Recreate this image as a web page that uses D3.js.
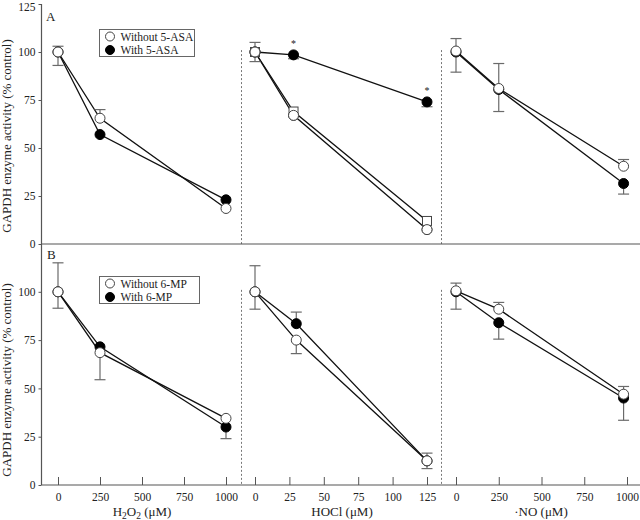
<!DOCTYPE html>
<html><head><meta charset="utf-8">
<script src="https://cdnjs.cloudflare.com/ajax/libs/d3/7.8.5/d3.min.js"></script>
<style>body{margin:0;background:#fff}svg{display:block}text{font-family:"Liberation Serif","Times New Roman",serif;fill:#222}</style>
</head><body><svg id="c" width="640" height="520"></svg>
<script>
// ---------- data ----------
const yTicks = [0, 25, 50, 75, 100, 125];
const yTicksB = [0, 25, 50, 75, 100];
const h2o2Ticks = [0, 250, 500, 750, 1000];
const hoclTicks = [0, 25, 50, 75, 100, 125];
const noTicks = [0, 250, 500, 750, 1000];

const h2o2X = [0, 250, 1000];
const hoclXA = [0, 28, 125];
const hoclXB = [0, 30, 125];
const noX = [0, 250, 980];

// Panel A (5-ASA)
const aH2O2Without = [100, 65.5, 18.5];
const aH2O2With = [100, 57, 23];
const aH2O2WithoutHi = [103, 70, null];
const aH2O2WithoutLo = [93, null, null];
const aH2O2WithHi = [null, null, null];
const aH2O2WithLo = [null, null, null];

const aHOClWithout = [100, 67, 7.5];
const aHOClSquare = [100, 69, 12];
const aHOClWith = [100, 98.5, 74];
const aHOClWithoutHi = [105, null, null];
const aHOClWithoutLo = [95, null, null];
const aHOClWithHi = [null, null, null];
const aHOClWithLo = [null, 96.5, 71.5];
const aHOClStar = [false, true, true];

const aNOWithout = [100.5, 81, 40.5];
const aNOWith = [100, 80.5, 31.5];
const aNOWithoutHi = [107, 94, 44];
const aNOWithoutLo = [89.5, 69, null];
const aNOWithHi = [null, null, null];
const aNOWithLo = [null, null, 26];

// Panel B (6-MP)
const bH2O2Without = [100, 68.5, 34.5];
const bH2O2With = [100, 71.5, 30];
const bH2O2WithoutHi = [115, null, null];
const bH2O2WithoutLo = [91.5, 54.5, null];
const bH2O2WithHi = [null, null, null];
const bH2O2WithLo = [null, null, 24];

const bHOClWithout = [100, 75, 12.5];
const bHOClWith = [100, 83.5, 12.5];
const bHOClWithoutHi = [113.5, null, 16.5];
const bHOClWithoutLo = [91, 68, 8.5];
const bHOClWithHi = [null, 89.5, null];
const bHOClWithLo = [null, null, null];

const bNOWithout = [100.5, 91, 47];
const bNOWith = [100, 84, 45];
const bNOWithoutHi = [104.5, 94.5, 51];
const bNOWithoutLo = [91, null, null];
const bNOWithHi = [null, null, null];
const bNOWithLo = [null, 75.5, 33.5];

const legendA = ["Without 5-ASA", "With 5-ASA"];
const legendB = ["Without 6-MP", "With 6-MP"];

// ---------- layout ----------
const svg = d3.select("#c");
const axisCol = "#555", errCol = "#6a6a6a";
const yA = d3.scaleLinear().domain([0, 125]).range([244, 4]);
const yB = d3.scaleLinear().domain([0, 125]).range([485, 243.5]);
const x1 = d3.scaleLinear().domain([0, 1000]).range([58, 226]);
const x2 = d3.scaleLinear().domain([0, 125]).range([255, 427]);
const x3 = d3.scaleLinear().domain([0, 1000]).range([456, 627]);
const axisX = 41.5;

function styleAxis(g) {
  g.select(".domain").remove();
  g.selectAll("line").attr("stroke", axisCol);
  g.selectAll("text").attr("font-family", "Liberation Serif").attr("font-size", 11.5).attr("fill", "#222");
}

// y axes
[[yA, yTicks], [yB, yTicksB]].forEach(([ys, t]) => {
  const g = svg.append("g").attr("transform", `translate(${axisX},0)`)
    .call(d3.axisLeft(ys).tickValues(t).tickSize(3).tickPadding(3).tickFormat(d3.format("d")));
  styleAxis(g);
  g.selectAll("text").filter(d => d === 125).attr("dy", "0.55em");
});
svg.append("line").attr("x1", axisX).attr("x2", axisX).attr("y1", yA(125)).attr("y2", yB(0)).attr("stroke", axisCol).attr("stroke-width", 1.2);
// horizontal lines
svg.append("line").attr("x1", axisX).attr("x2", 640).attr("y1", yA(0)).attr("y2", yA(0)).attr("stroke", axisCol).attr("stroke-width", 1.2);
svg.append("line").attr("x1", axisX).attr("x2", 640).attr("y1", yB(0)).attr("y2", yB(0)).attr("stroke", axisCol).attr("stroke-width", 1.2);

// x axes (panel B only)
[[x1, h2o2Ticks], [x2, hoclTicks], [x3, noTicks]].forEach(([xs, t]) => {
  const g = svg.append("g").attr("transform", `translate(0,${yB(0)})`)
    .call(d3.axisBottom(xs).tickValues(t).tickSize(-8).tickPadding(6).tickFormat(d3.format("d")));
  styleAxis(g);
  g.selectAll("text").attr("y", 8);
});

// dotted separators
[241.5, 441.5].forEach(x => {
  [[yA, 101], [yB, 101]].forEach(([ys, top]) => {
    svg.append("line").attr("x1", x).attr("x2", x).attr("y1", ys(top)).attr("y2", ys(0))
      .attr("stroke", "#555").attr("stroke-width", 0.8).attr("stroke-dasharray", "2,2");
  });
});

// axis titles
[[yA, 136], [yB, 380]].forEach(([ys, cy]) => {
  svg.append("text").attr("transform", `translate(11,${cy}) rotate(-90)`).attr("text-anchor", "middle")
    .attr("font-size", 13).text("GAPDH enzyme activity (% control)");
});
const t1 = svg.append("text").attr("x", 142).attr("y", 516).attr("text-anchor", "middle").attr("font-size", 13);
t1.append("tspan").text("H");
t1.append("tspan").attr("font-size", 9.5).attr("dy", 3).text("2");
t1.append("tspan").attr("dy", -3).text("O");
t1.append("tspan").attr("font-size", 9.5).attr("dy", 3).text("2");
t1.append("tspan").attr("dy", -3).text(" (\u03bcM)");
svg.append("text").attr("x", 342).attr("y", 516).attr("text-anchor", "middle").attr("font-size", 13).text("HOCl (\u03bcM)");
svg.append("text").attr("x", 541).attr("y", 516).attr("text-anchor", "middle").attr("font-size", 13).text("\u00b7NO (\u03bcM)");

// panel letters
svg.append("text").attr("x", 46).attr("y", 21).attr("font-size", 13).text("A");
svg.append("text").attr("x", 47).attr("y", 259).attr("font-size", 13).text("B");

// ---------- series drawing ----------
const lineGen = (xs, ys, xv) => d3.line().x((d, i) => xs(xv[i])).y(d => ys(d));
function drawLine(xs, ys, xv, vals) {
  svg.append("path").attr("d", lineGen(xs, ys, xv)(vals)).attr("fill", "none").attr("stroke", "#111").attr("stroke-width", 1.3);
}
function drawErr(xs, ys, xv, vals, hi, lo) {
  vals.forEach((v, i) => {
    [hi[i], lo[i]].forEach(e => {
      if (e == null) return;
      const x = xs(xv[i]);
      svg.append("line").attr("x1", x).attr("x2", x).attr("y1", ys(v)).attr("y2", ys(e)).attr("stroke", errCol).attr("stroke-width", 1.2);
      svg.append("line").attr("x1", x - 5.5).attr("x2", x + 5.5).attr("y1", ys(e)).attr("y2", ys(e)).attr("stroke", errCol).attr("stroke-width", 1.2);
    });
  });
}
function drawPts(xs, ys, xv, vals, filled, shape) {
  vals.forEach((v, i) => {
    if (shape === "square") {
      svg.append("rect").attr("x", xs(xv[i]) - 4.5).attr("y", ys(v) - 4.5).attr("width", 9).attr("height", 9)
        .attr("fill", "#fff").attr("stroke", "#444").attr("stroke-width", 1);
    } else {
      svg.append("circle").attr("cx", xs(xv[i])).attr("cy", ys(v)).attr("r", 5)
        .attr("fill", filled ? "#000" : "#fff").attr("stroke", filled ? "#000" : "#444").attr("stroke-width", 1);
    }
  });
}
function panel(xs, ys, xv, wo, wi, woHi, woLo, wiHi, wiLo, openOnTop) {
  drawLine(xs, ys, xv, wo);
  drawLine(xs, ys, xv, wi);
  drawErr(xs, ys, xv, wo, woHi, woLo);
  drawErr(xs, ys, xv, wi, wiHi, wiLo);
  if (openOnTop) { drawPts(xs, ys, xv, wi, true); drawPts(xs, ys, xv, wo, false); }
  else { drawPts(xs, ys, xv, wo, false); drawPts(xs, ys, xv, wi, true); }
}

// Panel A
panel(x1, yA, h2o2X, aH2O2Without, aH2O2With, aH2O2WithoutHi, aH2O2WithoutLo, aH2O2WithHi, aH2O2WithLo, true);
drawLine(x2, yA, hoclXA, aHOClSquare);
panel(x2, yA, hoclXA, aHOClWithout, aHOClWith, aHOClWithoutHi, aHOClWithoutLo, aHOClWithHi, aHOClWithLo, true);
drawPts(x2, yA, hoclXA, aHOClSquare, false, "square");
drawPts(x2, yA, hoclXA, aHOClWithout, false);
aHOClStar.forEach((s, i) => {
  if (!s) return;
  svg.append("text").attr("x", x2(hoclXA[i])).attr("y", yA(aHOClWith[i]) - 8).attr("text-anchor", "middle")
    .attr("font-size", 10).attr("fill", "#666").text("*");
});
panel(x3, yA, noX, aNOWithout, aNOWith, aNOWithoutHi, aNOWithoutLo, aNOWithHi, aNOWithLo, true);

// Panel B
panel(x1, yB, h2o2X, bH2O2Without, bH2O2With, bH2O2WithoutHi, bH2O2WithoutLo, bH2O2WithHi, bH2O2WithLo, true);
panel(x2, yB, hoclXB, bHOClWithout, bHOClWith, bHOClWithoutHi, bHOClWithoutLo, bHOClWithHi, bHOClWithLo, true);
panel(x3, yB, noX, bNOWithout, bNOWith, bNOWithoutHi, bNOWithoutLo, bNOWithHi, bNOWithLo, true);

// legends
function legend(x, y, w, labels) {
  svg.append("rect").attr("x", x).attr("y", y).attr("width", w).attr("height", 27)
    .attr("fill", "#fff").attr("stroke", "#666").attr("stroke-width", 1);
  labels.forEach((l, i) => {
    const cy = y + 7 + i * 13.5;
    svg.append("circle").attr("cx", x + 10.5).attr("cy", cy).attr("r", 4.5)
      .attr("fill", i ? "#000" : "#fff").attr("stroke", i ? "#000" : "#444");
    svg.append("text").attr("x", x + 21).attr("y", cy + 4).attr("font-size", 11.5).text(l);
  });
}
legend(99.5, 29.5, 95, legendA);
legend(99.5, 276.5, 100, legendB);
</script></body></html>
